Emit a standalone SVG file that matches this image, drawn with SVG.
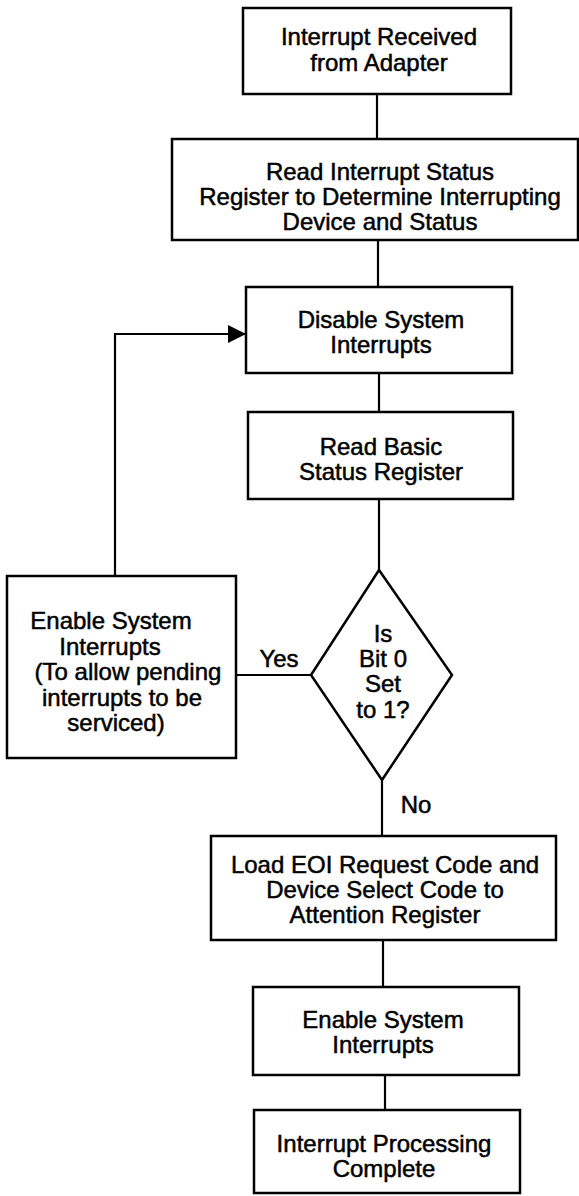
<svg xmlns="http://www.w3.org/2000/svg" width="579" height="1196" viewBox="0 0 579 1196">
<defs>
<style>
.box{fill:#fff;stroke:#000;stroke-width:2.5}
.ln{fill:none;stroke:#000;stroke-width:2.2}
text{font-family:"Liberation Sans",Arial,Helvetica,sans-serif;font-size:24px;fill:#000;stroke:#000;stroke-width:0.5;text-anchor:middle}
</style>
<marker id="arr" viewBox="0 0 18 18" refX="18" refY="9" markerWidth="18" markerHeight="18" markerUnits="userSpaceOnUse" orient="auto">
<path d="M0,0 L18,9 L0,18 Z" fill="#000"/>
</marker>
</defs>
<rect width="579" height="1196" fill="#fff"/>
<g id="connectors">
<line class="ln" x1="377" y1="94" x2="377" y2="139"/>
<line class="ln" x1="378" y1="240" x2="378" y2="286"/>
<line class="ln" x1="379" y1="373" x2="379" y2="412"/>
<line class="ln" x1="379" y1="499" x2="379" y2="570"/>
<line class="ln" x1="382" y1="780" x2="382" y2="836"/>
<line class="ln" x1="383" y1="940" x2="383" y2="987"/>
<line class="ln" x1="385" y1="1075" x2="385" y2="1110"/>
<line class="ln" x1="236" y1="675" x2="311" y2="675"/>
<polyline class="ln" points="115,576 115,334 246,334" marker-end="url(#arr)"/>
<text x="279" y="667">Yes</text>
<text x="416" y="813">No</text>
</g>
<g id="n1">
<rect class="box" x="243" y="8" width="268" height="86"/>
<text x="379" y="45">Interrupt Received</text>
<text x="379" y="71">from Adapter</text>
</g>
<g id="n2">
<rect class="box" x="172" y="139" width="406" height="101"/>
<text x="380" y="180">Read Interrupt Status</text>
<text x="380" y="205">Register to Determine Interrupting</text>
<text x="380" y="230">Device and Status</text>
</g>
<g id="n3">
<rect class="box" x="246" y="287" width="266" height="86"/>
<text x="381" y="328">Disable System</text>
<text x="381" y="353">Interrupts</text>
</g>
<g id="n4">
<rect class="box" x="248" y="412" width="265" height="87"/>
<text x="381" y="455">Read Basic</text>
<text x="381" y="480">Status Register</text>
</g>
<g id="n5">
<polygon class="box" points="379,570 452,675 382,780 311,675"/>
<text x="383" y="642">Is</text>
<text x="383" y="667">Bit 0</text>
<text x="383" y="692">Set</text>
<text x="383" y="718">to 1?</text>
</g>
<g id="n6">
<rect class="box" x="7" y="576" width="229" height="182"/>
<text x="111" y="629">Enable System</text>
<text x="110" y="655">Interrupts</text>
<text x="128" y="680">(To allow pending</text>
<text x="122" y="706">interrupts to be</text>
<text x="116" y="731">serviced)</text>
</g>
<g id="n7">
<rect class="box" x="211" y="836" width="345" height="104"/>
<text x="385" y="873">Load EOI Request Code and</text>
<text x="385" y="898">Device Select Code to</text>
<text x="385" y="923">Attention Register</text>
</g>
<g id="n8">
<rect class="box" x="253" y="987" width="266" height="88"/>
<text x="383" y="1028">Enable System</text>
<text x="383" y="1053">Interrupts</text>
</g>
<g id="n9">
<rect class="box" x="254" y="1110" width="266" height="83"/>
<text x="384" y="1152">Interrupt Processing</text>
<text x="384" y="1177">Complete</text>
</g>
</svg>
